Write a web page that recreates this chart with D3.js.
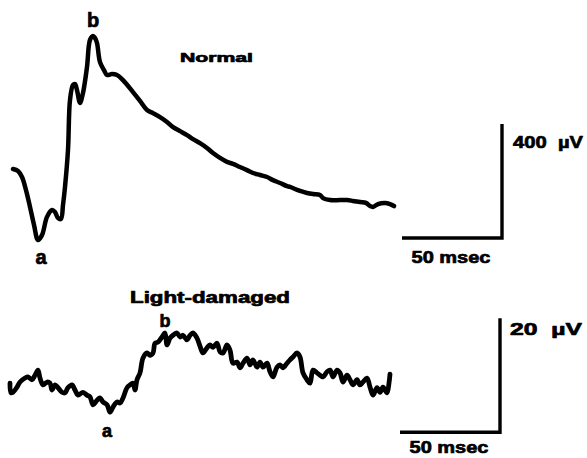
<!DOCTYPE html>
<html>
<head>
<meta charset="utf-8">
<script src="https://cdn.jsdelivr.net/npm/d3@7"></script>
<style>
  body { margin: 0; background: #fff; }
  svg text { font-family: "Liberation Sans", Arial, Helvetica, sans-serif; font-weight: bold; fill: #000;
             stroke: #000; stroke-width: 0.7px; stroke-linejoin: round; }
</style>
</head>
<body>
<svg id="chart" width="587" height="458"></svg>
<script>
// Normal ERG trace: time (msec) and voltage (uV)
var normalT = [0, 2.5, 4.5, 6.5, 8.5, 10.5, 12.5, 14.5, 17, 19.5, 21, 22.5, 24, 25, 26, 27.5, 28.5, 30, 31, 32,
  33.5, 35, 37, 38.5, 40, 41, 42, 43.5, 45.5, 47, 49.5, 52, 55, 60, 63.5, 67, 70, 73.5, 77, 80,
  83.5, 87, 90, 93.5, 97, 100, 103.5, 107, 110, 113.5, 117, 120, 123.5, 127, 130, 133.5, 137, 138.5, 143.5, 147,
  150, 153.5, 155, 158.5, 163.5, 167, 170, 173.5, 176.5, 178.5, 180, 182.5, 186, 188.5, 190.5];
var normalV = [0, -7, -28, -74, -133, -196, -249, -232, -168, -144, -151, -172, -175, -126, -63, 67, 242, 295, 298, 277,
  232, 267, 358, 453, 467, 460, 442, 375, 347, 330, 333, 330, 312, 270, 239, 207, 196, 182, 165, 147,
  133, 119, 105, 91, 74, 56, 39, 25, 18, 7, -4, -14, -21, -28, -39, -49, -60, -63, -77, -84,
  -88, -91, -102, -109, -109, -109, -112, -116, -119, -130, -133, -123, -119, -123, -130];

// Light-damaged ERG trace: time (msec) and voltage (uV)
var damagedT = [0, 0.5, 1.5, 3.5, 5, 7.5, 9, 11, 12.5, 14, 15, 16.5, 18.5, 20, 21, 22.5, 24, 26, 27.5, 29,
  31, 32.5, 34, 36.5, 38.5, 40, 41.5, 43.5, 45, 46.5, 48.5, 50, 51.5, 53.5, 55, 56.5, 58.5, 60, 61.5, 62.5,
  63.5, 65, 66.5, 68.5, 70, 71.5, 72.5, 74, 76, 77.5, 78.5, 80, 81.5, 83.5, 85, 86.5, 88.5, 90, 91.5, 93.5,
  95, 96.5, 98.5, 100, 101.5, 103.5, 105, 106.5, 108.5, 110, 111.5, 113.5, 115, 116.5, 118.5, 120, 121.5, 123.5, 125, 126.5,
  128.5, 130, 131.5, 133.5, 135, 136.5, 138.5, 140, 141.5, 143.5, 145, 146.5, 148.5, 150, 151.5, 153.5, 155, 156.5, 158.5, 160,
  161.5, 163.5, 165, 166.5, 168.5, 170, 171.5, 173.5, 175, 176.5, 178.5, 180, 181.5, 183.5, 185, 186.5, 188.5, 189.5, 190];
var damagedV = [1.2, -0.5, -0.4, 0.5, 1.4, 2.1, 2.3, 1.8, 2.6, 3.5, 2.1, 0.9, 1.4, 1.2, 0, 0.9, 0.4, -0.4, -0.5, 0.4,
  0.9, 0, -0.9, -0.4, -0.9, -1.2, -2.6, -1.8, -1.4, -2.1, -2.6, -3.9, -3.0, -2.1, -2.3, -1.4, 0.4, 0.9, 1.2, 0,
  1.8, 3.0, 5.6, 6.5, 6.1, 6.5, 8.2, 8.4, 9.3, 10.0, 7.9, 9.1, 9.6, 10.0, 9.3, 9.6, 8.8, 9.6, 10.0, 9.1,
  7.7, 6.5, 7.4, 7.9, 7.5, 8.2, 6.7, 6.5, 7.9, 7.0, 4.7, 4.9, 3.9, 4.7, 5.6, 4.4, 5.3, 4.0, 4.9, 4.0,
  4.7, 3.2, 2.3, 4.0, 4.4, 3.9, 4.7, 5.3, 5.8, 6.5, 5.8, 3.0, 1.8, 1.2, 3.5, 3.0, 2.6, 2.3, 3.2, 3.5,
  2.3, 3.5, 3.0, 1.4, 2.6, 1.8, 0.9, 1.8, 0.9, 1.4, 2.1, 0.5, -0.9, 0.4, -0.4, 0.5, -0.5, 1.2, 2.8];

// calibration bars: [start msec, length msec], [start uV, length uV]
var normalBarT = [194.5, 50];
var normalBarV = [-242, 400];
var damagedBarT = [195, 50];
var damagedBarV = [-7.4, 20];

var svg = d3.select("#chart");

function drawPanel(opts) {
    var x = d3.scaleLinear().domain([0, 190]).range(opts.xRange);
    var y = d3.scaleLinear().domain([0, opts.vUnit]).range([opts.y0, opts.y0 - 114]);

    var pts = opts.t.map(function(t, i) { return [t, opts.v[i]]; });
    var line = d3.line()
        .x(function(d) { return x(d[0]); })
        .y(function(d) { return y(d[1]); })
        .curve(d3.curveCatmullRom.alpha(0.5));

    var g = svg.append("g");
    g.append("path")
        .datum(pts)
        .attr("d", line)
        .attr("fill", "none")
        .attr("stroke", "#000")
        .attr("stroke-width", opts.lineWidth)
        .attr("stroke-linejoin", "round")
        .attr("stroke-linecap", "round");

    // calibration bar
    var bx0 = x(opts.barT[0]), bx1 = x(opts.barT[0] + opts.barT[1]);
    var by0 = y(opts.barV[0]), by1 = y(opts.barV[0] + opts.barV[1]);
    g.append("path")
        .attr("d", "M" + bx0 + "," + by0 + "H" + bx1 + "V" + by1)
        .attr("fill", "none")
        .attr("stroke", "#000")
        .attr("stroke-width", 3.4);

    g.append("text")
        .attr("x", (bx0 + bx1) / 2 - 1)
        .attr("y", by0 + opts.msecDy)
        .attr("text-anchor", "middle")
        .attr("font-size", 17)
        .attr("textLength", 79)
        .attr("lengthAdjust", "spacingAndGlyphs")
        .text("50 msec");

    g.append("text")
        .attr("x", bx1 + opts.uvDx)
        .attr("y", by1 + opts.uvDy)
        .attr("font-size", 17)
        .attr("textLength", opts.uvLen)
        .attr("lengthAdjust", "spacingAndGlyphs")
        .text(opts.uvLabel);

    // a and b wave labels at trough and peak
    var ai = d3.minIndex(opts.v.slice(0, opts.aSearch));
    var bi = d3.maxIndex(opts.v);
    g.append("text")
        .attr("x", x(opts.t[ai]) + opts.aDx)
        .attr("y", y(opts.v[ai]) + opts.aDy)
        .attr("text-anchor", "middle")
        .attr("font-size", opts.abSize)
        .text("a");
    g.append("text")
        .attr("x", x(opts.t[bi]) + opts.bDx)
        .attr("y", y(opts.v[bi]) + opts.bDy)
        .attr("text-anchor", "middle")
        .attr("font-size", opts.abSize)
        .text("b");

    g.append("text")
        .attr("x", opts.title[0])
        .attr("y", opts.title[1])
        .attr("font-size", opts.titleSize)
        .attr("textLength", opts.titleLen)
        .attr("lengthAdjust", "spacingAndGlyphs")
        .text(opts.titleText);
}

drawPanel({
    t: normalT, v: normalV, xRange: [13, 393], y0: 169, vUnit: 400,
    lineWidth: 4.5, barT: normalBarT, barV: normalBarV,
    msecDy: 25, uvDx: 11, uvDy: 24, uvLen: 70, uvLabel: "400\u00a0\u00a0\u00b5V",
    aSearch: 20, aDx: 3, aDy: 24, bDx: 0, bDy: -9, abSize: 20,
    title: [180, 62], titleSize: 13, titleLen: 73, titleText: "Normal"
});

drawPanel({
    t: damagedT, v: damagedV, xRange: [10, 390], y0: 390, vUnit: 20,
    lineWidth: 4.8, barT: damagedBarT, barV: damagedBarV,
    msecDy: 21, uvDx: 10, uvDy: 17, uvLen: 72, uvLabel: "20\u00a0\u00a0\u00b5V",
    aSearch: 40, aDx: -3, aDy: 25, bDx: 0, bDy: -6, abSize: 18,
    title: [130, 303], titleSize: 16, titleLen: 160, titleText: "Light-damaged"
});
</script>
</body>
</html>
